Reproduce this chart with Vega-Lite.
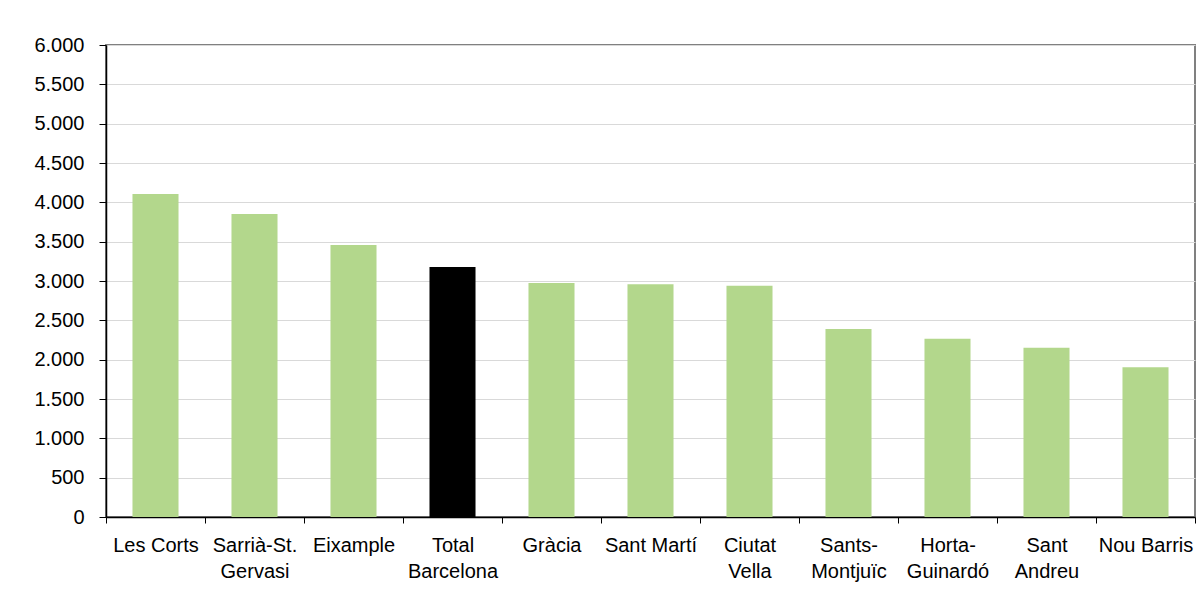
{
  "$schema": "https://vega.github.io/schema/vega-lite/v6.json",
  "width": 1089,
  "height": 472,
  "autosize": {"type": "none"},
  "padding": {"left": 106, "top": 45, "right": 5, "bottom": 83},
  "background": "white",
  "data": {
    "values": [
      {"district": "Les Corts", "group": "Districte", "value": 4105},
      {"district": "Sarrià-St.\nGervasi", "group": "Districte", "value": 3852},
      {"district": "Eixample", "group": "Districte", "value": 3457},
      {"district": "Total\nBarcelona", "group": "Total", "value": 3178},
      {"district": "Gràcia", "group": "Districte", "value": 2974},
      {"district": "Sant Martí", "group": "Districte", "value": 2958},
      {"district": "Ciutat\nVella", "group": "Districte", "value": 2940},
      {"district": "Sants-\nMontjuïc", "group": "Districte", "value": 2390},
      {"district": "Horta-\nGuinardó", "group": "Districte", "value": 2267},
      {"district": "Sant\nAndreu", "group": "Districte", "value": 2152},
      {"district": "Nou Barris", "group": "Districte", "value": 1903}
    ]
  },
  "mark": {"type": "bar", "width": {"band": 0.465}},
  "encoding": {
    "x": {
      "field": "district",
      "type": "nominal",
      "sort": null,
      "scale": {"paddingInner": 0, "paddingOuter": 0},
      "axis": {
        "title": null,
        "labelAngle": 0,
        "labelExpr": "split(datum.label, '\\n')",
        "tickBand": "extent",
        "tickSize": 6,
        "labelPadding": 12,
        "labelLineHeight": 26,
        "labelBaseline": "top"
      }
    },
    "y": {
      "field": "value",
      "type": "quantitative",
      "scale": {"domain": [0, 6000], "nice": false},
      "axis": {
        "title": null,
        "values": [0, 500, 1000, 1500, 2000, 2500, 3000, 3500, 4000, 4500, 5000, 5500, 6000],
        "labelExpr": "replace(format(datum.value, ','), ',', '.')",
        "tickSize": 7,
        "labelPadding": 15,
        "grid": true,
        "gridColor": "#d9d9d9",
        "gridWidth": 1
      }
    },
    "color": {
      "field": "group",
      "type": "nominal",
      "scale": {"domain": ["Districte", "Total"], "range": ["#b3d78c", "#000000"]},
      "legend": null
    }
  },
  "config": {
    "view": {"stroke": "#808080", "strokeWidth": 2},
    "axis": {
      "labelFont": "Liberation Sans, Arial",
      "labelFontSize": 20,
      "labelColor": "#000000",
      "domainColor": "#000000",
      "domainWidth": 1.5,
      "tickColor": "#000000",
      "tickWidth": 1,
      "labelOverlap": false,
      "labelBound": false
    },
    "axisX": {"grid": false}
  }
}
